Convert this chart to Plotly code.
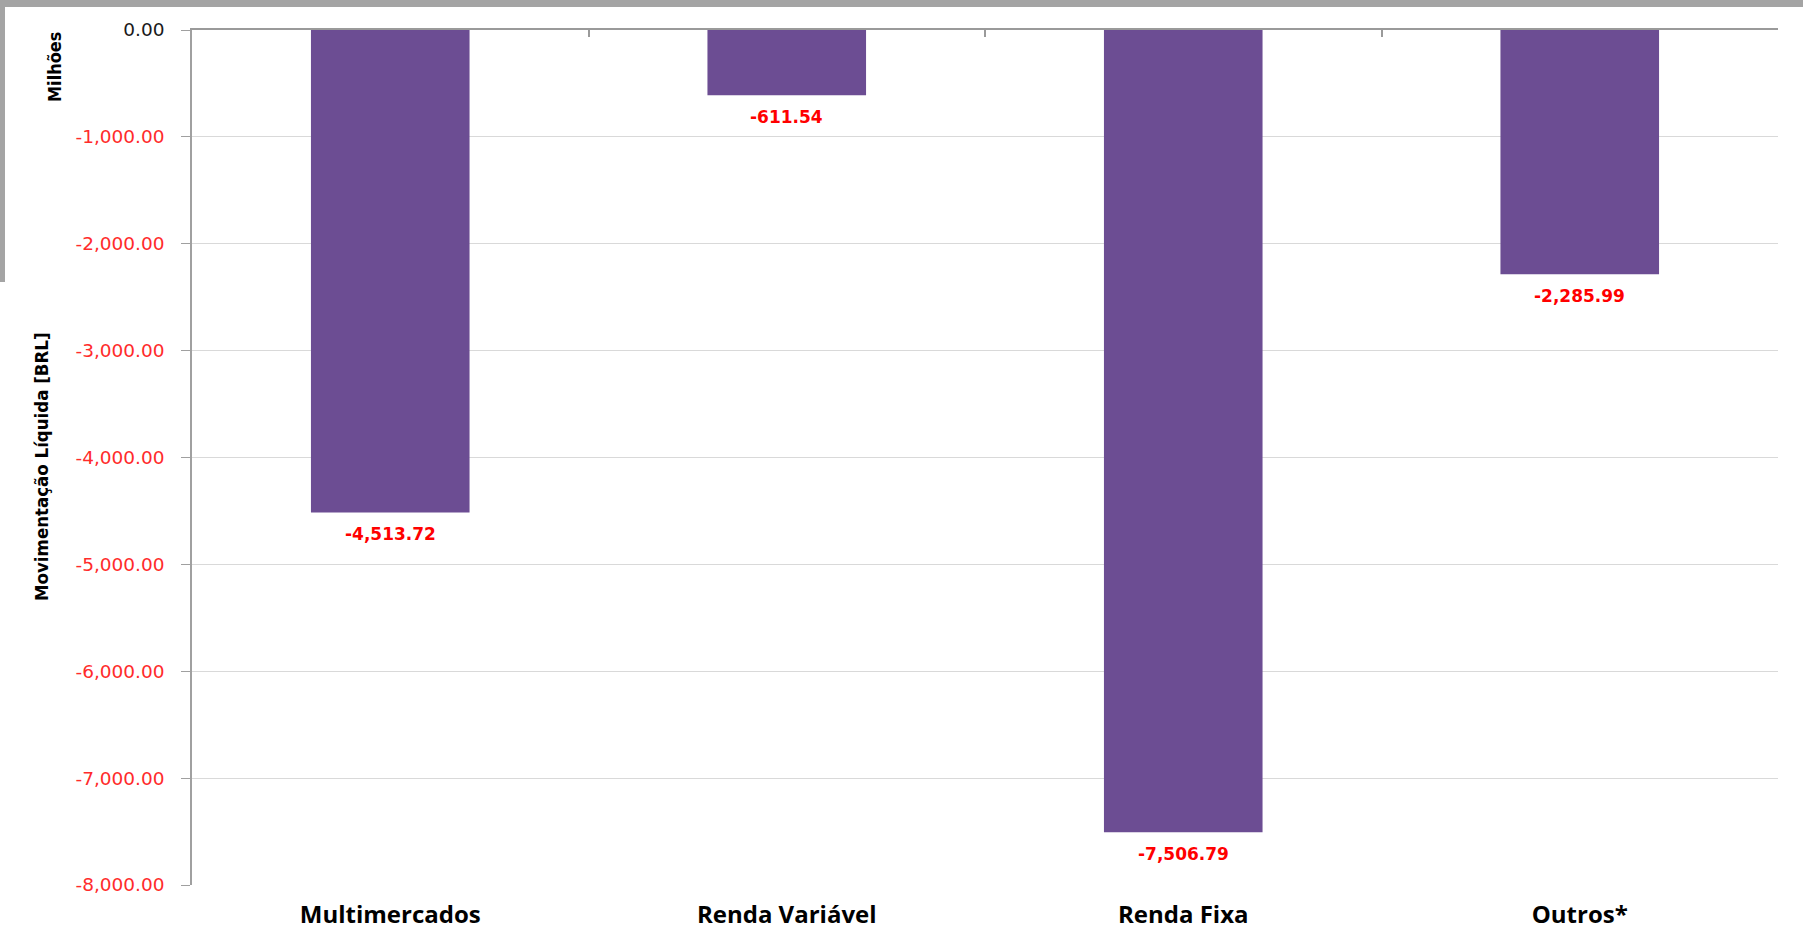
import plotly.graph_objects as go

categories = ["Multimercados", "Renda Variável", "Renda Fixa", "Outros*"]
values = [-4513.72, -611.54, -7506.79, -2285.99]
y_ticks = [0, -1000, -2000, -3000, -4000, -5000, -6000, -7000, -8000]
y_title = "Movimentação Líquida [BRL]"
unit_label = "Milhões"

W, H = 1803, 931
L, R, T, B = 192, 25, 30, 46
pw, ph = W - L - R, H - T - B

def px_to_paper_x(px):
    return (px - L) / pw

def px_to_paper_y(py):
    return (H - B - py) / ph

tick_text = [
    ("<span style='color:#1a1a1a'>%s</span>" % f"{v:,.2f}") if v == 0 else f"{v:,.2f}"
    for v in y_ticks
]

fig = go.Figure()
fig.add_trace(go.Bar(
    x=categories, y=values,
    marker=dict(color="#6C4D93", line=dict(width=0)),
    showlegend=False, hoverinfo="x+y",
))
fig.add_trace(go.Scatter(x=[], y=[], xaxis="x2", yaxis="y", showlegend=False, hoverinfo="skip"))

for c, v in zip(categories, values):
    fig.add_annotation(
        x=c, y=v, text=f"{v:,.2f}", showarrow=False, yshift=-22,
        xanchor="center", yanchor="middle",
        font=dict(family="DejaVu Sans", size=17, color="#ff0000", weight="bold"),
    )

narrow = "Liberation Sans Narrow, DejaVu Sans Condensed, sans-serif"
fig.add_annotation(
    xref="paper", yref="paper", x=px_to_paper_x(42), y=px_to_paper_y(467),
    text=y_title, textangle=-90, showarrow=False, xanchor="center", yanchor="middle",
    font=dict(family=narrow, size=18.5, color="#000000", weight="bold"),
)
fig.add_annotation(
    xref="paper", yref="paper", x=px_to_paper_x(55), y=px_to_paper_y(67),
    text=unit_label, textangle=-90, showarrow=False, xanchor="center", yanchor="middle",
    font=dict(family=narrow, size=18, color="#000000", weight="bold"),
)

# slide background strips
fig.add_shape(type="rect", xref="paper", yref="paper", layer="below",
              x0=px_to_paper_x(-5), x1=px_to_paper_x(W + 5), y0=px_to_paper_y(7), y1=px_to_paper_y(-5),
              fillcolor="#a4a4a4", line=dict(width=0))
fig.add_shape(type="rect", xref="paper", yref="paper", layer="below",
              x0=px_to_paper_x(-5), x1=px_to_paper_x(5), y0=px_to_paper_y(282), y1=px_to_paper_y(7),
              fillcolor="#a4a4a4", line=dict(width=0))

fig.update_layout(
    width=W, height=H,
    margin=dict(l=L, r=R, t=T, b=B, pad=0, autoexpand=False),
    paper_bgcolor="#ffffff", plot_bgcolor="#ffffff",
    bargap=0.6,
    xaxis=dict(
        type="category", categoryorder="array", categoryarray=categories,
        range=[-0.5, 3.5], showline=False, showgrid=False, zeroline=False, ticks="",
        tickfont=dict(family="Open Sans", size=24, color="#000000", weight="bold"),
        ticklabelstandoff=13, automargin=False,
    ),
    xaxis2=dict(
        overlaying="x", side="top", anchor="y", type="linear", range=[-0.5, 3.5],
        tickvals=[-0.5, 0.5, 1.5, 2.5, 3.5], ticks="inside", ticklen=7, tickwidth=1.5,
        tickcolor="#9a9a9a", showline=True, linecolor="#9a9a9a", linewidth=1.5,
        showticklabels=False, showgrid=False, zeroline=False, automargin=False,
    ),
    yaxis=dict(
        range=[-8000, 0], tickvals=y_ticks, ticktext=tick_text,
        showline=True, linecolor="#a0a0a0", linewidth=1.5,
        ticks="outside", ticklen=9, tickcolor="#a0a0a0", tickwidth=1,
        showgrid=True, gridcolor="#d9d9d9", gridwidth=1, zeroline=False,
        tickfont=dict(family="DejaVu Sans", size=18.5, color="#ff2b2b"),
        ticklabelstandoff=13, automargin=False,
    ),
)

fig.write_html("out.html")
